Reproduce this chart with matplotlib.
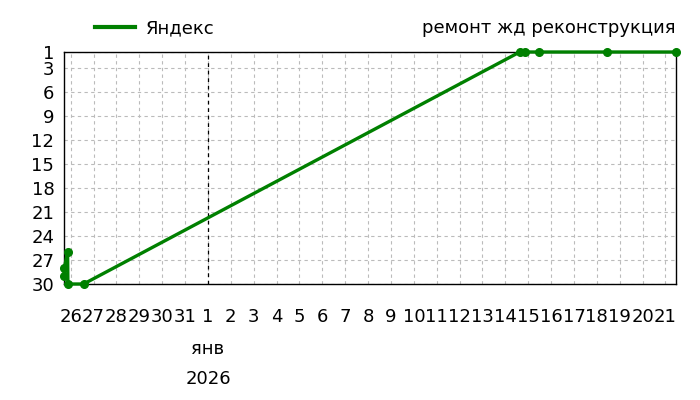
import matplotlib
matplotlib.use('Agg')
import matplotlib.pyplot as plt
import matplotlib.dates as mdates
from matplotlib.lines import Line2D
import pandas as pd

plt.rcParams['font.family'] = ['DejaVu Sans']

# positions of the site in search results (lower number = better)
times = ['2025-12-25 16:58', '2025-12-25 17:17', '2025-12-25 20:44',
         '2025-12-25 21:04', '2025-12-26 13:32', '2026-01-14 15:07',
         '2026-01-14 20:24', '2026-01-15 11:02', '2026-01-18 11:02',
         '2026-01-21 11:02']
ranks = [29, 28, 26, 30, 30, 1, 1, 1, 1, 1]

series_name = 'Яндекс'
title = 'ремонт жд реконструкция'
y_ticks = [1, 3, 6, 9, 12, 15, 18, 21, 24, 27, 30]
day_ticks = pd.date_range('2025-12-26', '2026-01-21', freq='D')
month_label = 'янв'
year_label = '2026'
year_start = pd.Timestamp('2026-01-01')

t = pd.to_datetime(times)
green = '#008000'
fs = 13

fig = plt.figure(figsize=(7, 4), dpi=100)
ax = fig.add_axes([64 / 700, 1 - 284 / 400, 612 / 700, 232 / 400])

ax.plot(t, ranks, color=green, lw=2.4, marker='o', ms=5.5,
        clip_on=False, zorder=3)

ax.set_xlim(t[0], t[-1])
ax.set_ylim(30, 1)
ax.set_yticks(y_ticks)
ax.set_xticks(day_ticks)
ax.set_xticklabels([str(d.day) for d in day_ticks])
ax.tick_params(length=0, labelsize=fs)
ax.tick_params(axis='y', pad=7)
ax.tick_params(axis='x', pad=17)

ax.grid(True, ls=(0, (3, 3)), color='#bbbbbb', lw=0.8)
for s in ax.spines.values():
    s.set_color('black')
    s.set_linewidth(1)

ax.axvline(year_start, color='black', ls=(0, (3, 3)), lw=0.9, zorder=2)

xpos = mdates.date2num(year_start)
ax.text(xpos, -0.28, month_label, transform=ax.get_xaxis_transform(),
        ha='center', va='center', fontsize=fs)
ax.text(xpos, -0.41, year_label, transform=ax.get_xaxis_transform(),
        ha='center', va='center', fontsize=fs)

handle = Line2D([], [], color=green, lw=3)
ax.legend([handle], [series_name], loc='center left',
          bbox_to_anchor=(88 / 700, 1 - 28 / 400),
          bbox_transform=fig.transFigure, frameon=False, fontsize=fs,
          handlelength=2.2, handletextpad=0.6, borderaxespad=0)
fig.text(676 / 700, 1 - 28 / 400, title, ha='right', va='center',
         fontsize=fs)

fig.savefig('out.png', dpi=100)
